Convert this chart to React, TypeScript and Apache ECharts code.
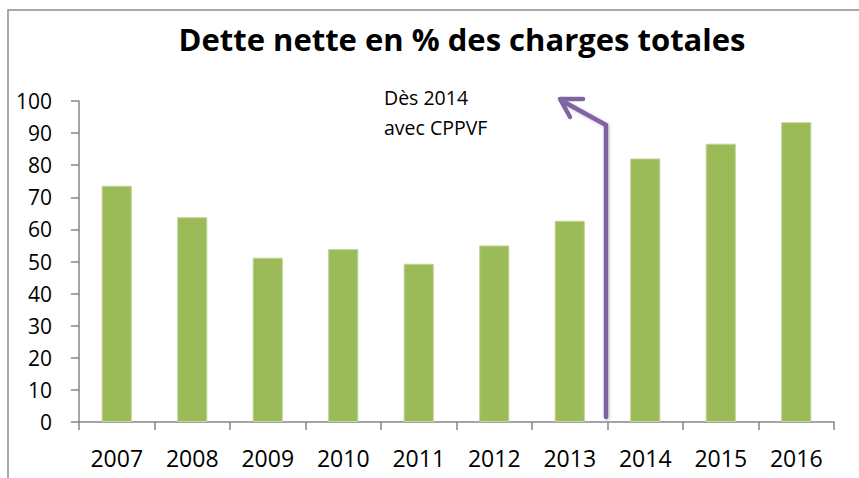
import React, { useEffect, useRef } from "react";
import * as echarts from "echarts";

const years = ["2007", "2008", "2009", "2010", "2011", "2012", "2013", "2014", "2015", "2016"];
const detteNette = [73.6, 63.8, 51.2, 53.9, 49.3, 55.0, 62.7, 82.1, 86.7, 93.4];
const titleText = "Dette nette en % des charges totales";
const noteLines = ["Dès 2014", "avec CPPVF"];

const W = 859;
const H = 478;
const GRID = { left: 79, top: 101, right: 25, bottom: 56 };

export default function App() {
  const ref = useRef<HTMLDivElement>(null);
  useEffect(() => {
    document.body.style.margin = "0";
    const chart = echarts.init(ref.current!, null, { renderer: "svg" });
    const axisGray = "#868686";
    chart.setOption({
      animation: false,
      backgroundColor: "#ffffff",
      title: {
        text: titleText,
        left: 457,
        top: 18,
        textAlign: "center",
        textStyle: {
          fontFamily: "Open Sans",
          fontWeight: "bold",
          fontSize: 31,
          color: "#000000",
        },
      },
      grid: GRID,
      xAxis: {
        type: "category",
        data: years,
        boundaryGap: true,
        axisLine: { show: true, lineStyle: { color: axisGray, width: 1.5 } },
        axisTick: { show: true, length: 8, alignWithLabel: false, lineStyle: { color: axisGray, width: 1.5 } },
        axisLabel: { margin: 24, fontFamily: "Open Sans", fontSize: 23, color: "#000000" },
        splitLine: { show: false },
      },
      yAxis: {
        type: "value",
        min: 0,
        max: 100,
        interval: 10,
        axisLine: { show: true, lineStyle: { color: axisGray, width: 1.5 } },
        axisTick: { show: true, length: 8, lineStyle: { color: axisGray, width: 1.5 } },
        axisLabel: { margin: 27, fontFamily: "Open Sans", fontSize: 21, color: "#000000" },
        splitLine: { show: false },
      },
      series: [
        {
          type: "bar",
          data: detteNette,
          barWidth: "40%",
          itemStyle: { color: "#9BBB59", borderColor: "#C3D69B", borderWidth: 1 },
        },
      ],
      graphic: [
        {
          type: "rect",
          shape: { x: 8, y: 10, width: W + 20, height: H + 20 },
          style: { fill: "none", stroke: "#8c8c8c", lineWidth: 1.5 },
          silent: true,
        },
        {
          type: "text",
          left: 384,
          top: 82,
          style: {
            text: noteLines.join("\n"),
            fontFamily: "Open Sans",
            fontSize: 19.5,
            lineHeight: 30,
            fill: "#000000",
          },
        },
        {
          type: "polyline",
          shape: { points: [[606, 417], [606, 125], [566, 103]] },
          style: { stroke: "#8064A2", lineWidth: 4.5, fill: "none", lineJoin: "round", lineCap: "round",
            shadowBlur: 3, shadowColor: "rgba(0,0,0,0.25)", shadowOffsetX: 1, shadowOffsetY: 1 },
        },
        {
          type: "polyline",
          shape: { points: [[583, 99], [560, 99], [570, 117]] },
          style: { stroke: "#8064A2", lineWidth: 4.5, fill: "none", lineJoin: "round", lineCap: "round" },
        },
      ],
    });
    return () => chart.dispose();
  }, []);
  return <div ref={ref} style={{ position: "absolute", left: 0, top: 0, width: W, height: H }} />;
}
